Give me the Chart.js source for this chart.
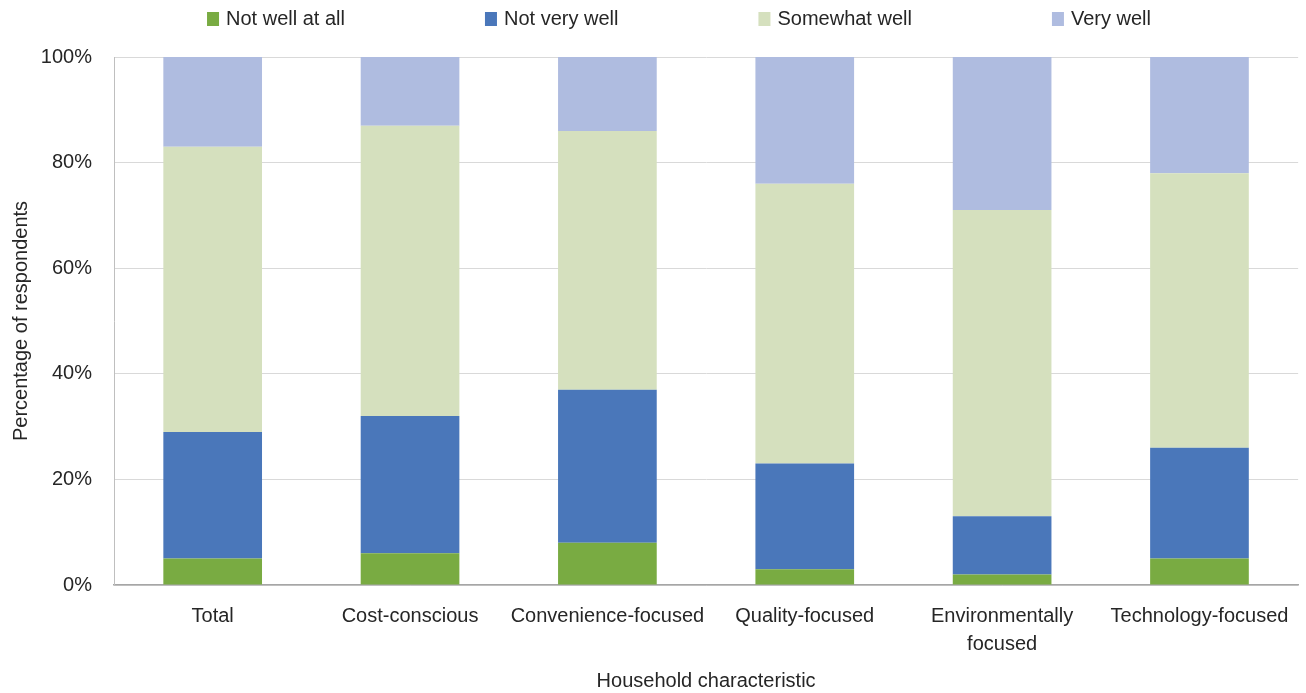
<!DOCTYPE html>
<html>
<head>
<meta charset="utf-8">
<script src="https://cdn.jsdelivr.net/npm/chart.js@4"></script>
<style>
  body { margin: 0; background: #fff; }
</style>
</head>
<body>
<canvas id="chart" width="1306" height="693"></canvas>
<script>
const categories = ["Total", "Cost-conscious", "Convenience-focused", "Quality-focused", ["Environmentally", "focused"], "Technology-focused"];
const notWellAtAll = [5, 6, 8, 3, 2, 5];
const notVeryWell = [24, 26, 29, 20, 11, 21];
const somewhatWell = [54, 55, 49, 53, 58, 52];
const veryWell = [17, 13, 14, 24, 29, 22];
const yTicks = [0, 20, 40, 60, 80, 100];

const fontFamily = '"Liberation Sans", Arial, sans-serif';
const fontSize = 20;
const textColor = "#262626";

// legend drawn by hand so the wide even spacing matches the original
const topLegend = {
    id: "topLegend",
    afterDraw(chart) {
        const ctx = chart.ctx;
        const gap = 140;
        const centerX = 679;
        const y = 19;
        ctx.save();
        ctx.font = fontSize + "px " + fontFamily;
        ctx.textBaseline = "middle";
        const items = chart.data.datasets.map(d => ({
            label: d.label,
            color: d.backgroundColor,
            w: 12 + 7 + ctx.measureText(d.label).width,
        }));
        const total = items.reduce((s, it) => s + it.w, 0) + gap * (items.length - 1);
        let x = centerX - total / 2;
        items.forEach(it => {
            ctx.fillStyle = it.color;
            ctx.fillRect(x, y - 7, 12, 14);
            ctx.fillStyle = textColor;
            ctx.fillText(it.label, x + 19, y);
            x += it.w + gap;
        });
        ctx.restore();
    },
};

const ctx = document.getElementById("chart").getContext("2d");
new Chart(ctx, {
    type: "bar",
    data: {
        labels: categories,
        datasets: [
            { label: "Not well at all", data: notWellAtAll, backgroundColor: "#79AB42" },
            { label: "Not very well", data: notVeryWell, backgroundColor: "#4A77BA" },
            { label: "Somewhat well", data: somewhatWell, backgroundColor: "#D5E0BE" },
            { label: "Very well", data: veryWell, backgroundColor: "#AFBCE0" },
        ],
    },
    options: {
        responsive: false,
        animation: false,
        layout: { padding: { top: 57, right: 7, left: 0, bottom: 0 } },
        datasets: { bar: { barPercentage: 0.5, categoryPercentage: 1 } },
        plugins: {
            legend: { display: false },
            tooltip: { enabled: false },
        },
        scales: {
            x: {
                stacked: true,
                grid: { display: false, drawTicks: false },
                border: { color: "#a6a6a6", width: 1.5 },
                ticks: {
                    color: textColor,
                    font: { family: fontFamily, size: fontSize, lineHeight: 1.4 },
                    padding: 17,
                    maxRotation: 0,
                    autoSkip: false,
                },
                title: {
                    display: true,
                    text: "Household characteristic",
                    color: textColor,
                    font: { family: fontFamily, size: fontSize, lineHeight: 1.2 },
                    padding: { top: 0, bottom: 0 },
                },
                afterFit(s) { s.height = 108; },
            },
            y: {
                stacked: true,
                min: 0,
                max: 100,
                grid: { color: "#d9d9d9", drawTicks: false },
                border: { color: "#bfbfbf" },
                afterBuildTicks(s) { s.ticks = yTicks.map(v => ({ value: v })); },
                ticks: {
                    color: textColor,
                    font: { family: fontFamily, size: fontSize },
                    padding: 22,
                    callback: v => v + "%",
                },
                title: {
                    display: true,
                    text: "Percentage of respondents",
                    color: textColor,
                    font: { family: fontFamily, size: fontSize, lineHeight: 1.2 },
                    padding: { top: 9, bottom: 0 },
                },
                afterFit(s) { s.width = 114; },
            },
        },
    },
    plugins: [topLegend],
});
</script>
</body>
</html>
